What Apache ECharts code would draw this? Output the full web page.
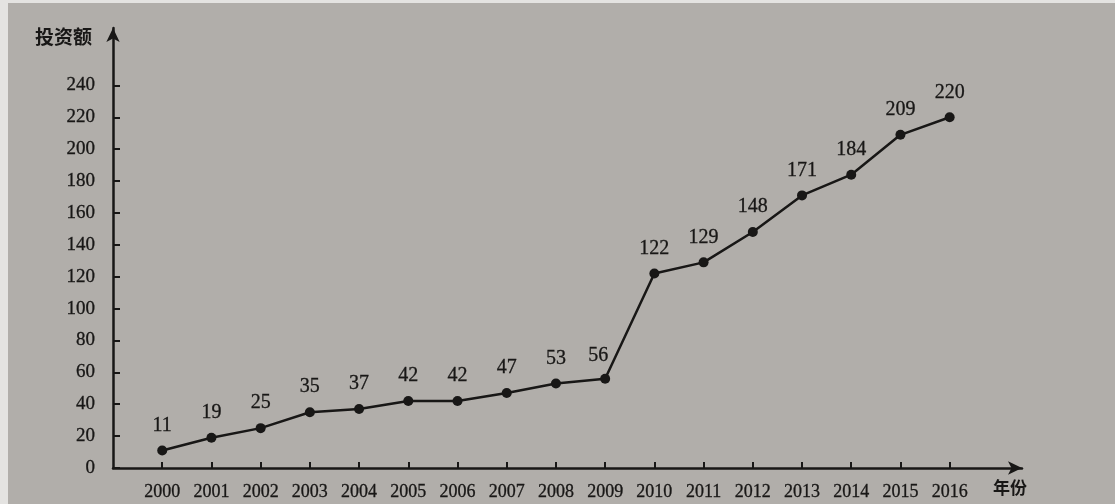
<!DOCTYPE html>
<html>
<head>
<meta charset="utf-8">
<script src="https://cdn.jsdelivr.net/npm/echarts@6/dist/echarts.min.js"></script>
<style>
html,body{margin:0;padding:0;background:#e4e3e1;}
#c{position:absolute;left:8px;top:3px;width:1107px;height:501px;background:#b1aeaa;}
</style>
</head>
<body>
<div id="c"></div>
<script>
const years = [2000,2001,2002,2003,2004,2005,2006,2007,2008,2009,2010,2011,2012,2013,2014,2015,2016];
const investment = [11,19,25,35,37,42,42,47,53,56,122,129,148,171,184,209,220];
const yTicks = [0,20,40,60,80,100,120,140,160,180,200,220,240];
const yName = '投资额';
const xName = '年份';

const ink = '#181716';
const chart = echarts.init(document.getElementById('c'));
const data = years.map((y, i) => {
  const d = { value: [y, investment[i]] };
  if (y === 2009) d.label = { offset: [-7, 2] };
  return d;
});
const txt = { color: ink, fontFamily: 'Liberation Serif', textBorderColor: ink, textBorderWidth: 0.3 };
chart.setOption({
  animation: false,
  grid: { left: 105, right: 93, top: 25, bottom: 36 },
  xAxis: {
    type: 'value', min: 1999, max: 2017.47, interval: 1,
    name: xName, nameLocation: 'end', nameGap: -12,
    nameTextStyle: { color: ink, fontSize: 17, fontFamily: 'Noto Sans CJK SC', fontWeight: 'bold', align: 'center', verticalAlign: 'top', padding: [11, 0, 0, 0] },
    axisLine: { show: true, lineStyle: { color: ink, width: 2.5 }, symbol: ['none', 'arrow'], symbolSize: [10, 14] },
    axisTick: { show: true, inside: true, length: 6, lineStyle: { color: ink, width: 2 }, customValues: years },
    axisLabel: Object.assign({ fontSize: 18, margin: 15, customValues: years, formatter: v => String(v) }, txt),
    splitLine: { show: false }
  },
  yAxis: {
    type: 'value', min: 0, max: 276, interval: 20,
    name: yName, nameLocation: 'end', nameGap: -9,
    nameTextStyle: { color: ink, fontSize: 19, fontFamily: 'Noto Sans CJK SC', fontWeight: 'bold', align: 'right', verticalAlign: 'middle', padding: [0, 21, 0, 0] },
    axisLine: { show: true, lineStyle: { color: ink, width: 2.5 }, symbol: ['none', 'arrow'], symbolSize: [10, 14] },
    axisTick: { show: true, inside: true, length: 7, lineStyle: { color: ink, width: 2 }, customValues: yTicks },
    axisLabel: Object.assign({ fontSize: 19, margin: 18, customValues: yTicks }, txt),
    splitLine: { show: false }
  },
  series: [{
    type: 'line',
    data: data,
    symbol: 'circle', symbolSize: 10,
    itemStyle: { color: ink },
    lineStyle: { color: ink, width: 2.5 },
    label: Object.assign({ show: true, position: 'top', distance: 10, fontSize: 20 }, txt)
  }]
});
</script>
</body>
</html>
